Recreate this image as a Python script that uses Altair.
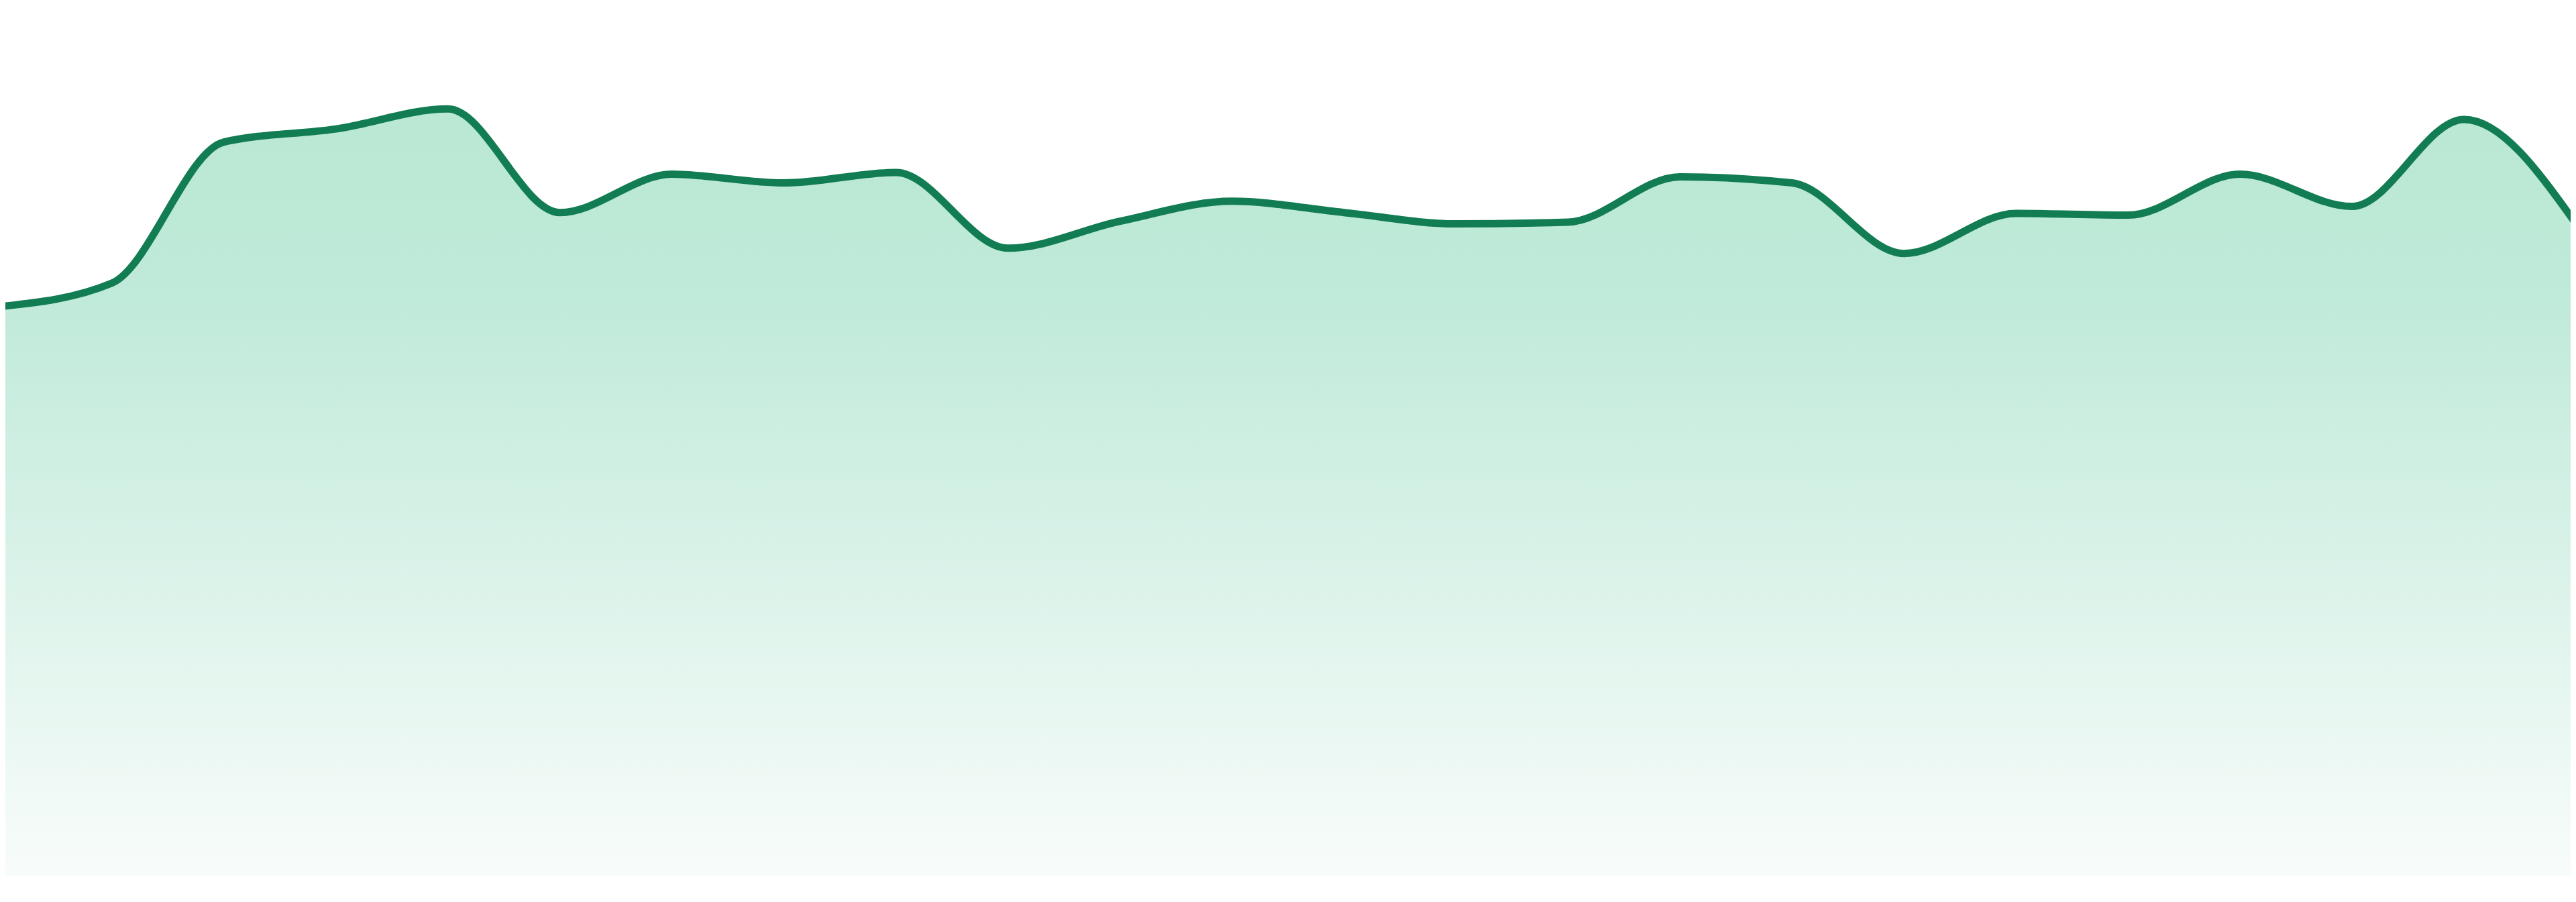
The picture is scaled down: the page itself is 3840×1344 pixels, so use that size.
import altair as alt
import pandas as pd

# Series values (index along x, value on y; baseline at 0)
idx = list(range(24))
values = [65.4, 68.1, 84.3, 85.8, 88.1, 76.2, 80.6, 79.6, 80.8, 72.1, 75.2, 77.5,
          76.2, 74.9, 75.1, 80.3, 79.6, 71.5, 76.1, 75.9, 80.6, 76.9, 86.9, 74.9]

df = pd.DataFrame({"i": idx, "v": values})

LINE = "#127c53"
gradient = alt.Gradient(
    gradient="linear",
    stops=[
        alt.GradientStop(color="#b9e8d3", offset=0),
        alt.GradientStop(color="#c0eada", offset=0.25),
        alt.GradientStop(color="#f8fcfa", offset=1),
    ],
    x1=1, x2=1, y1=0, y2=1,
)

x_enc = alt.X("i:Q", axis=None,
              scale=alt.Scale(domain=[0.048, 22.952], nice=False, zero=False))
y_enc = alt.Y("v:Q", axis=None,
              scale=alt.Scale(domain=[0, 100], nice=False, zero=True))

area = alt.Chart(df).mark_area(
    interpolate="monotone", fill=gradient, clip=True
).encode(x=x_enc, y=y_enc)

line = alt.Chart(df).mark_line(
    interpolate="monotone", color=LINE, strokeWidth=11, clip=True
).encode(x=x_enc, y=y_enc)

chart = (area + line).properties(
    width=3824, height=1297, padding=0, background="white"
).configure_view(stroke=None, strokeWidth=0)

chart.save("out.html", embed_options={"renderer": "svg", "actions": False})
